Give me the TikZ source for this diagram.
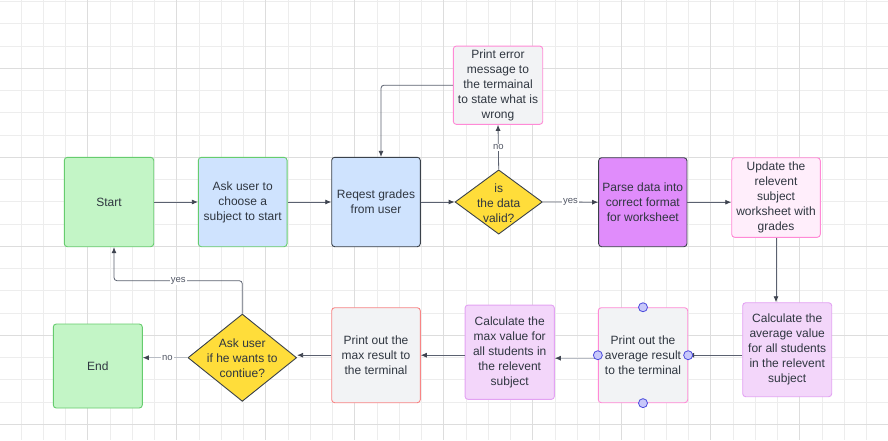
\documentclass[tikz,border=0pt]{standalone}
\usepackage{fontspec}
\setmainfont{Liberation Sans}
\usetikzlibrary{arrows.meta,shapes.geometric,calc}
\definecolor{gminor}{HTML}{EDEDED}
\definecolor{gmajor}{HTML}{DDDDDD}
\definecolor{txtc}{HTML}{2F3640}
\definecolor{linec}{HTML}{5B6170}
\definecolor{tipc}{HTML}{3F4450}
\definecolor{darkb}{HTML}{3A414A}
\definecolor{greenf}{HTML}{C3F5C6}
\definecolor{greenb}{HTML}{66CC6E}
\definecolor{bluef}{HTML}{CFE3FE}
\definecolor{yellowf}{HTML}{FFDD3A}
\definecolor{grayf}{HTML}{F2F3F5}
\definecolor{pinkb}{HTML}{FF8AD6}
\definecolor{purplef}{HTML}{E08CFB}
\definecolor{pinkf}{HTML}{FFEEFB}
\definecolor{lilacf}{HTML}{F3D6FA}
\definecolor{lilacb}{HTML}{E3A2F3}
\definecolor{redb}{HTML}{F88585}
\definecolor{handlef}{HTML}{C8C8FA}
\definecolor{handleb}{HTML}{4B4BDD}
\definecolor{lightline}{HTML}{B8BCC4}
\begin{document}
\begin{tikzpicture}[x=1pt,y=-1pt,
  box/.style={rectangle,rounded corners=3pt,line width=0.9pt,align=center,
    text=txtc,font=\fontsize{12}{15}\selectfont,inner sep=2pt},
  dia/.style={diamond,line width=0.9pt,draw=darkb,fill=yellowf,inner sep=0pt},
  txt/.style={align=center,text=txtc,font=\fontsize{12}{15}\selectfont,inner sep=0pt},
  conn/.style={draw=linec,line width=0.8pt,-{Latex[length=6pt,width=5pt,color=tipc]}},
  lbl/.style={fill=white,text=linec!90!black,font=\fontsize{9.5}{11}\selectfont,inner sep=1pt},
  handle/.style={circle,draw=handleb,fill=handlef,line width=0.8pt,minimum size=9pt,inner sep=0pt},
  gmin/.style={draw=gminor,line width=0.8pt},
  gmaj/.style={draw=gmajor,line width=0.8pt}]
\useasboundingbox (0,0) rectangle (888,440);
\fill[white] (0,0) rectangle (888,440);
% grid
\foreach \k in {0,...,40} \draw[gmin] ({-1.3+22.25*\k},0) -- ++(0,440);
\foreach \k in {0,...,19} \draw[gmin] (0,{1.55+22.25*\k}) -- ++(888,0);
\foreach \k in {0,...,10} \draw[gmaj] ({-1.3+89*\k},0) -- ++(0,440);
\foreach \k in {0,...,4} \draw[gmaj] (0,{68.3+89*\k}) -- ++(888,0);
% nodes top row
\node[box,draw=greenb,fill=greenf,minimum width=89.4pt,minimum height=89.4pt] (start) at (109,202) {Start};
\node[box,draw=greenb,fill=bluef,minimum width=88.7pt,minimum height=89.4pt] (ask) at (242.7,202) {Ask user to\\choose a\\subject to start};
\node[box,draw=darkb,fill=bluef,minimum width=88.6pt,minimum height=89.4pt] (req) at (376,202) {Reqest grades\\from user};
\node[dia,minimum width=87.3pt,minimum height=64.3pt] (valid) at (498.7,202) {};
\node[txt] (validt) at (498.7,203) {is\\the data\\valid?};
\node[box,draw=pinkb,fill=grayf,minimum width=89.4pt,minimum height=78.3pt] (err) at (498,85.2) {Print error\\message to\\the termainal\\to state what is\\wrong};
\node[box,draw=darkb,fill=purplef,minimum width=88.3pt,minimum height=89pt] (parse) at (642.8,202.2) {Parse data into\\correct format\\for worksheet};
\node[box,draw=pinkb,fill=pinkf,minimum width=88.6pt,minimum height=79.6pt] (upd) at (776,197.5) {Update the\\relevent\\subject\\worksheet with\\grades};
% bottom row
\node[box,draw=lilacb,fill=lilacf,minimum width=89pt,minimum height=94pt] (cavg) at (787.2,349.7) {Calculate the\\average value\\for all students\\in the relevent\\subject};
\node[box,draw=pinkb,fill=grayf,minimum width=89.4pt,minimum height=95pt] (pavg) at (643,355.2) {Print out the\\average result\\to the terminal};
\node[box,draw=lilacb,fill=lilacf,minimum width=89.3pt,minimum height=94.3pt] (cmax) at (509.7,352.2) {Calculate the\\max value for\\all students in\\the relevent\\subject};
\node[box,draw=redb,fill=grayf,minimum width=88.6pt,minimum height=95pt] (pmax) at (376,355.2) {Print out the\\max result to\\the terminal};
\node[dia,minimum width=108.7pt,minimum height=87.3pt] (cont) at (242.3,357.7) {};
\node[txt] (contt) at (242.3,358) {Ask user\\if he wants to\\contiue?};
\node[box,draw=greenb,fill=greenf,minimum width=89pt,minimum height=84pt] (end) at (97.8,366) {End};
% connectors
\draw[conn] (start.east) -- (ask.west);
\draw[conn] (ask.east) -- (req.west);
\draw[conn] (req.east) -- (valid.west);
\draw[conn] (valid.north) -- node[lbl,pos=0.5]{no} (err.south);
\coordinate (reqin) at ([xshift=5pt]req.north);
\draw[conn,rounded corners=3pt] (err.west) -| (reqin);
\draw[conn] (valid.east) -- node[lbl,pos=0.5]{yes} (parse.west);
\draw[conn] (parse.east) -- (parse.east -| upd.west);
\draw[conn] (upd.south) -- (upd.south |- cavg.north);
\draw[conn] (cavg.west |- pavg.east) -- (pavg.east);
\coordinate (pavgout) at ([yshift=-3pt]pavg.west);
\draw[conn,draw=lightline] (pavgout) -- (pavgout -| cmax.east);
\draw[conn] (cmax.west |- pmax.east) -- (pmax.east);
\draw[conn] (pmax.west) -- (pmax.west -| cont.east);
\draw[conn,draw=lightline] (cont.west) -- node[lbl,pos=0.45]{no} (cont.west -| end.east);
\coordinate (startin) at ([xshift=5pt]start.south);
\coordinate (yesturn) at (242.3,280.7);
\draw[conn,rounded corners=3pt] (cont.north) -- (yesturn) -| (startin);
\node[lbl] (yeslbl) at (178.3,280.7) {yes};
% selection handles
\node[handle] (h1) at (pavg.north) {};
\node[handle] (h2) at (pavg.south) {};
\node[handle] (h3) at (pavg.west) {};
\node[handle] (h4) at (pavg.east) {};
\end{tikzpicture}
\end{document}
